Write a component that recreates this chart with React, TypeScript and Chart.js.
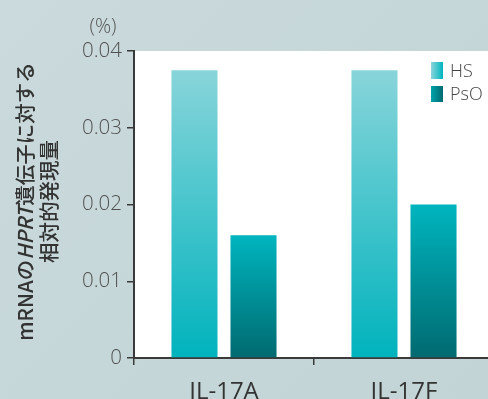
import React, { useEffect, useRef } from "react";
import { Chart, registerables } from "chart.js";

Chart.register(...registerables);

// ---- data ----
const categories = ["IL-17A", "IL-17F"];
const seriesLabels = ["HS", "PsO"];
const hsValues = [0.0375, 0.0375];
const psoValues = [0.016, 0.02];
const yTickValues = [0, 0.01, 0.02, 0.03, 0.04];
const yTickLabels = ["0", "0.01", "0.02", "0.03", "0.04"];
const unitLabel = "(%)";
const yTitleLine1 = [
  { text: "mRNAの", italic: false },
  { text: "HPRT", italic: true },
  { text: "遺伝子に対する", italic: false },
];
const yTitleLine2 = "相対的発現量";

// ---- styles ----
const CANVAS_W = 500;
const CANVAS_H = 399;
const HS_TOP = "#88d5da";
const HS_BOTTOM = "#00b3bd";
const PSO_TOP = "#00b5bf";
const PSO_BOTTOM = "#006a70";
const AXIS_COLOR = "#3a3a3a";
const TITLE_FONT = "'Noto Sans CJK JP', 'Noto Sans', sans-serif";
const TICK_FONT = "'Open Sans', 'Noto Sans', sans-serif";

function vGradient(chart: any, raw: any, top: string, bottom: string, fallback: string) {
  const area = chart.chartArea;
  const ys = chart.scales && chart.scales.y;
  if (!area || !ys || typeof raw !== "number") return fallback;
  const yTop = ys.getPixelForValue(raw);
  const yBot = ys.getPixelForValue(0);
  const g = chart.ctx.createLinearGradient(0, yTop, 0, yBot);
  g.addColorStop(0, top);
  g.addColorStop(1, bottom);
  return g;
}

const decorPlugin = {
  id: "decor",
  beforeDraw(chart: any) {
    const { ctx, chartArea } = chart;
    ctx.save();
    ctx.fillStyle = "#ffffff";
    ctx.fillRect(chartArea.left, chartArea.top, chartArea.right - chartArea.left, chartArea.bottom - chartArea.top);
    ctx.restore();
  },
  afterDraw(chart: any) {
    const { ctx, chartArea } = chart;
    ctx.save();
    // unit label
    ctx.fillStyle = "#555555";
    ctx.font = `300 20px ${TICK_FONT}`;
    ctx.textAlign = "center";
    ctx.textBaseline = "middle";
    ctx.fillText(unitLabel, 103, 27);

    // y-axis title (rotated)
    const cy = (chartArea.top + chartArea.bottom) / 2 - 3;
    ctx.fillStyle = "#333333";
    ctx.textBaseline = "middle";
    ctx.textAlign = "left";
    const fontN = `500 20.5px ${TITLE_FONT}`;
    const fontI = `italic 500 20.5px ${TITLE_FONT}`;
    // line 1
    ctx.save();
    ctx.translate(25, cy);
    ctx.rotate(-Math.PI / 2);
    let total = 0;
    const widths = yTitleLine1.map((s) => {
      ctx.font = s.italic ? fontI : fontN;
      const w = ctx.measureText(s.text).width;
      total += w;
      return w;
    });
    let x = -total / 2;
    yTitleLine1.forEach((s, i) => {
      ctx.font = s.italic ? fontI : fontN;
      ctx.fillText(s.text, x, 0);
      x += widths[i];
    });
    ctx.restore();
    // line 2
    ctx.save();
    ctx.translate(49, cy);
    ctx.rotate(-Math.PI / 2);
    ctx.font = fontN;
    ctx.textAlign = "center";
    ctx.fillText(yTitleLine2, 0, 0);
    ctx.restore();

    // legend
    const lx = 431;
    const rows = [
      { y: 62, h: 17, c0: "#8ad5da", c1: "#00b5bf", label: seriesLabels[0] },
      { y: 86, h: 16, c0: "#00a3ab", c1: "#006a70", label: seriesLabels[1] },
    ];
    rows.forEach((r) => {
      const g = ctx.createLinearGradient(lx, 0, lx + 12, 0);
      g.addColorStop(0, r.c0);
      g.addColorStop(1, r.c1);
      ctx.fillStyle = g;
      ctx.fillRect(lx, r.y, 12, r.h);
      ctx.fillStyle = "#444444";
      ctx.font = `300 18px ${TICK_FONT}`;
      ctx.textAlign = "left";
      ctx.textBaseline = "middle";
      ctx.fillText(r.label, 450, r.y + r.h / 2 + 1);
    });
    ctx.restore();
  },
};

export default function App() {
  const ref = useRef<HTMLCanvasElement | null>(null);

  useEffect(() => {
    if (!ref.current) return;
    const chart = new Chart(ref.current, {
      type: "bar",
      data: {
        labels: categories,
        datasets: [
          {
            label: seriesLabels[0],
            data: hsValues,
            backgroundColor: (c: any) => vGradient(c.chart, c.raw, HS_TOP, HS_BOTTOM, HS_BOTTOM),
            borderWidth: 0,
            categoryPercentage: 0.656,
            barPercentage: 0.78,
          },
          {
            label: seriesLabels[1],
            data: psoValues,
            backgroundColor: (c: any) => vGradient(c.chart, c.raw, PSO_TOP, PSO_BOTTOM, PSO_BOTTOM),
            borderWidth: 0,
            categoryPercentage: 0.656,
            barPercentage: 0.78,
          },
        ],
      },
      options: {
        responsive: false,
        animation: false,
        devicePixelRatio: 1,
        layout: { padding: { left: 0, right: CANVAS_W - 494, top: 51, bottom: 0 } },
        plugins: {
          legend: { display: false },
          tooltip: { enabled: false },
        },
        scales: {
          x: {
            offset: true,
            grid: {
              offset: true,
              drawOnChartArea: false,
              drawTicks: true,
              tickLength: 7,
              color: AXIS_COLOR,
              lineWidth: 1.5,
            },
            border: { display: true, color: AXIS_COLOR, width: 2 },
            ticks: {
              color: "#333333",
              font: { family: TICK_FONT, size: 24, weight: "normal" },
              padding: 13,
              maxRotation: 0,
            },
            afterFit: (s: any) => {
              s.height = CANVAS_H - 358;
            },
          },
          y: {
            min: 0,
            max: 0.04,
            afterBuildTicks: (s: any) => {
              s.ticks = yTickValues.map((v) => ({ value: v }));
            },
            grid: {
              drawOnChartArea: false,
              drawTicks: true,
              tickLength: 7,
              color: AXIS_COLOR,
              lineWidth: 1.5,
            },
            border: { display: true, color: AXIS_COLOR, width: 2 },
            ticks: {
              color: "#505050",
              font: { family: TICK_FONT, size: 20.5, weight: "300" },
              padding: 5,
              callback: (v: any) => {
                const i = yTickValues.indexOf(Number(v));
                return i >= 0 ? yTickLabels[i] : "";
              },
            },
            afterFit: (s: any) => {
              s.width = 134;
            },
          },
        },
      },
      plugins: [decorPlugin],
    } as any);
    return () => chart.destroy();
  }, []);

  return (
    <div
      style={{
        position: "absolute",
        left: 0,
        top: 0,
        width: 488,
        height: 399,
        overflow: "hidden",
        background: "linear-gradient(135deg, #cbdadc 0%, #c6d7d9 50%, #c3d4d7 100%)",
      }}
    >
      <canvas ref={ref} width={CANVAS_W} height={CANVAS_H} style={{ display: "block", width: CANVAS_W, height: CANVAS_H }} />
    </div>
  );
}
